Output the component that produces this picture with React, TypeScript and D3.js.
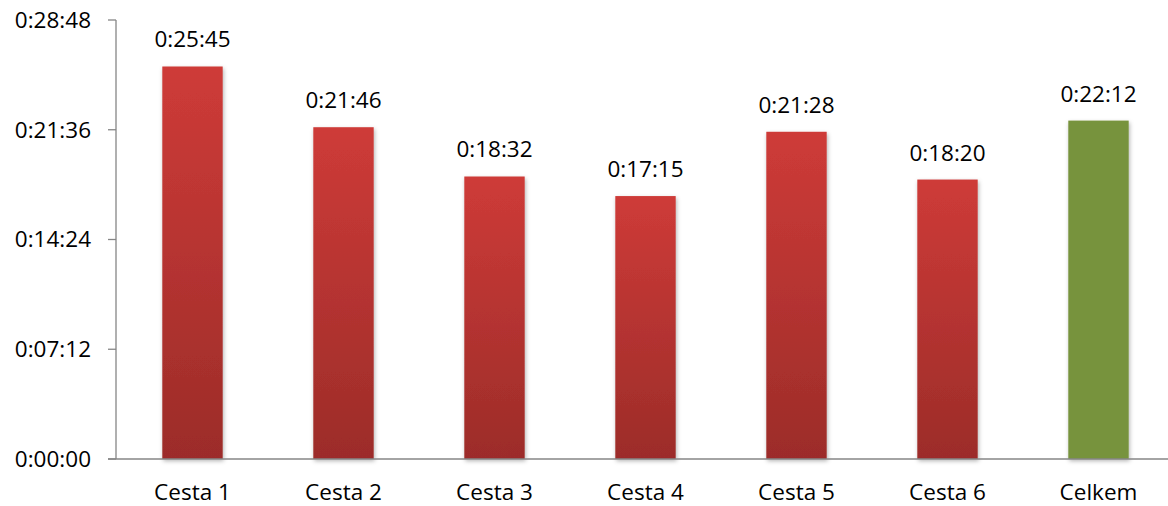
import React from "react";
import * as d3 from "d3";

const categories = ["Cesta 1", "Cesta 2", "Cesta 3", "Cesta 4", "Cesta 5", "Cesta 6", "Celkem"];
const valueLabels = ["0:25:45", "0:21:46", "0:18:32", "0:17:15", "0:21:28", "0:18:20", "0:22:12"];
const tickLabels = ["0:00:00", "0:07:12", "0:14:24", "0:21:36", "0:28:48"];

const toSec = (s: string) => {
  const [h, m, sec] = s.split(":").map(Number);
  return h * 3600 + m * 60 + sec;
};

const W = 1168, H = 506;
const margin = { left: 116, top: 20, bottom: 47 };

export default function App() {
  const values = valueLabels.map(toSec);
  const ticks = tickLabels.map(toSec);
  const x = d3.scaleBand<string>().domain(categories).range([117, 1174]).paddingInner(0.6).paddingOuter(0.3);
  const y = d3.scaleLinear().domain([0, d3.max(ticks)!]).range([H - margin.bottom, margin.top]);
  const font = "'Open Sans', sans-serif";
  const fs = 22.5;
  return (
    <svg width={W} height={H} style={{ position: "absolute", left: 0, top: 0 }}>
      <defs>
        <linearGradient id="red" x1="0" y1="0" x2="0" y2="1">
          <stop offset="0" stopColor="#CE3B38" />
          <stop offset="1" stopColor="#9C2C29" />
        </linearGradient>
        <filter id="sh" x="-20%" y="-5%" width="140%" height="110%">
          <feDropShadow dx="1" dy="2" stdDeviation="2" floodColor="#000" floodOpacity="0.3" />
        </filter>
      </defs>
      <rect width={W} height={H} fill="#fff" />
      {categories.map((c, i) => (
        <rect key={c} x={x(c)} y={y(values[i])} width={x.bandwidth()} height={y(0) - y(values[i])}
          fill={c === "Celkem" ? "#77933C" : "url(#red)"} filter="url(#sh)" />
      ))}
      <line x1={margin.left} x2={margin.left} y1={y(ticks[ticks.length - 1])} y2={y(0)} stroke="#868686" strokeWidth={1.3} />
      <line x1={margin.left - 8} x2={W} y1={y(0)} y2={y(0)} stroke="#868686" strokeWidth={1.3} />
      {ticks.map((t, i) => (
        <g key={t}>
          <line x1={margin.left - 8} x2={margin.left} y1={y(t)} y2={y(t)} stroke="#868686" strokeWidth={1.3} />
          <text x={91} y={y(t)} dy="0.35em" textAnchor="end" fontFamily={font} fontSize={fs} fill="#000">{tickLabels[i]}</text>
        </g>
      ))}
      {categories.map((c, i) => (
        <text key={c} x={x(c)! + x.bandwidth() / 2} y={y(values[i]) - 19} textAnchor="middle" fontFamily={font} fontSize={fs} fill="#000">{valueLabels[i]}</text>
      ))}
      {categories.map((c) => (
        <text key={c} x={x(c)! + x.bandwidth() / 2} y={500} textAnchor="middle" fontFamily={font} fontSize={fs} fill="#000">{c}</text>
      ))}
    </svg>
  );
}
